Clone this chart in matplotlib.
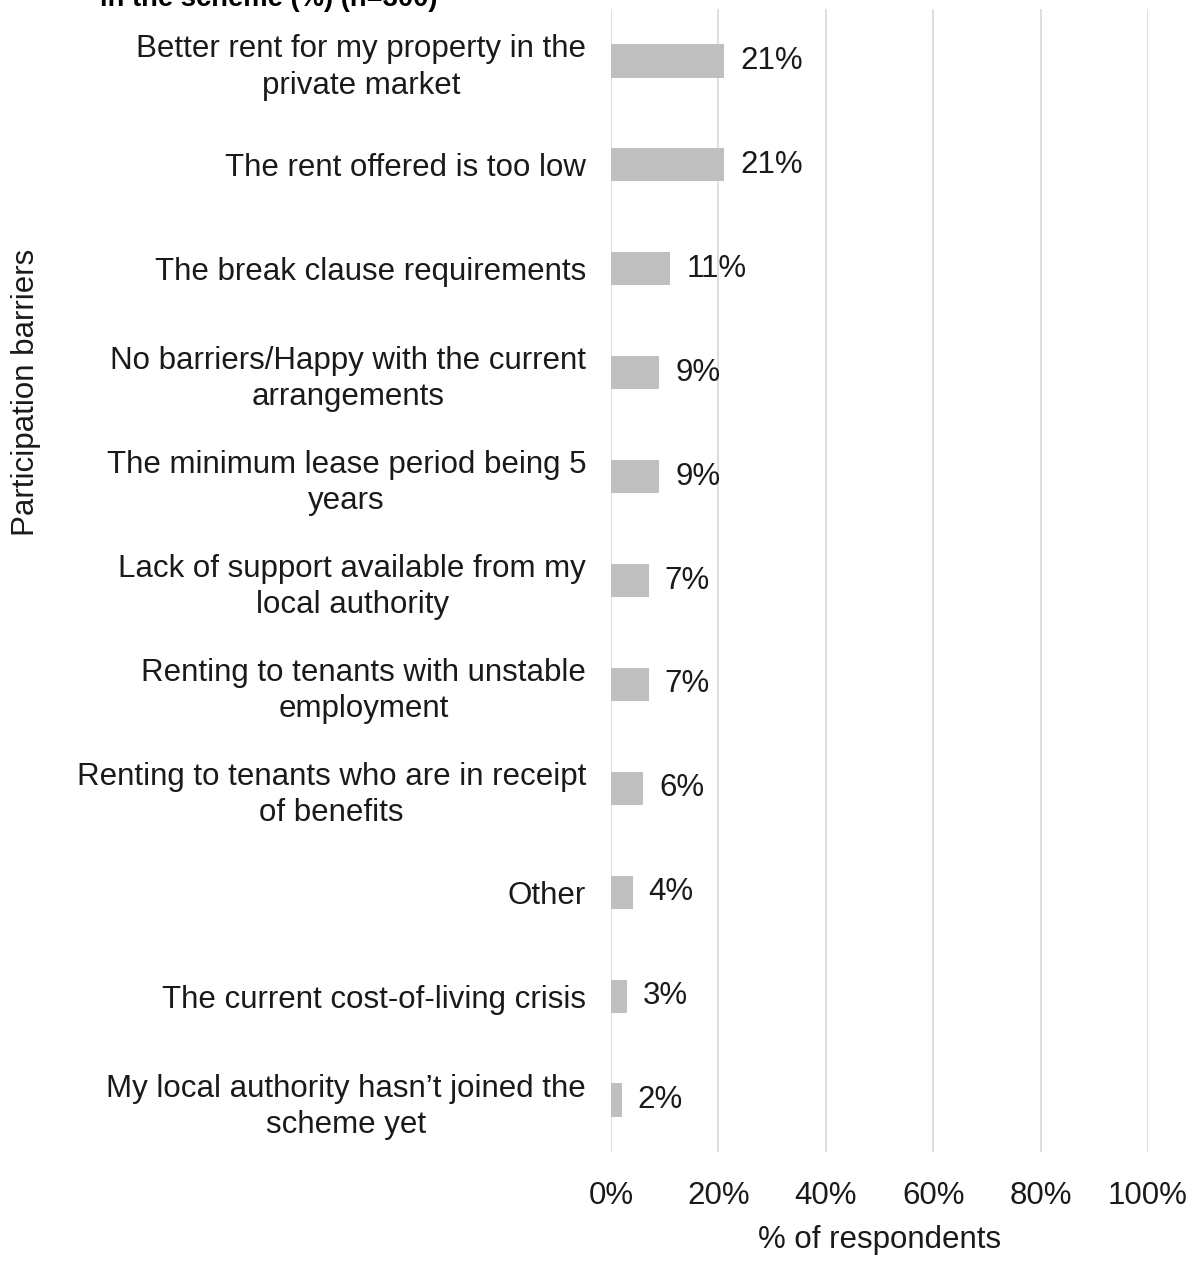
import matplotlib.pyplot as plt
from matplotlib.ticker import FuncFormatter

# participation barriers, top to bottom as shown
barriers = [
    "Better rent for my property in the\nprivate market",
    "The rent offered is too low",
    "The break clause requirements",
    "No barriers/Happy with the current\narrangements",
    "The minimum lease period being 5\nyears",
    "Lack of support available from my\nlocal authority",
    "Renting to tenants with unstable\nemployment",
    "Renting to tenants who are in receipt\nof benefits",
    "Other",
    "The current cost-of-living crisis",
    "My local authority hasn\u2019t joined the\nscheme yet",
]
pct = [21, 21, 11, 9, 9, 7, 7, 6, 4, 3, 2]

plt.rcParams['font.family'] = ['Liberation Sans', 'DejaVu Sans']
FS = 22.5
TXT = '#1a1a1a'

fig = plt.figure(figsize=(11.89, 12.65), dpi=100)
ax = fig.add_axes([0.5139, 0.0893, 0.4516, 0.9036])

ypos = list(range(len(barriers)))
ax.barh(ypos, pct, height=0.32, color='#bfbfbf', zorder=3)
for y, v in zip(ypos, pct):
    ax.text(v + 3, y, f"{v}%", va='center', ha='left', fontsize=FS, color=TXT, zorder=4)

ax.set_xlim(0, 100)
ax.set_ylim(len(barriers) - 0.5, -0.5)
ax.set_yticks(ypos)
ax.set_yticklabels(barriers, fontsize=FS, color=TXT, linespacing=1.27,
                   ha='right', multialignment='center')
ax.set_xticks(range(0, 101, 20))
ax.xaxis.set_major_formatter(FuncFormatter(lambda x, p: f"{x:.0f}%"))
ax.tick_params(axis='x', labelsize=FS, colors=TXT, length=0, pad=21)
ax.tick_params(axis='y', length=0, pad=18)
ax.grid(axis='x', color='#d9d9d9', linewidth=1.2, zorder=0)
for s in ax.spines.values():
    s.set_visible(False)

ax.set_xlabel('% of respondents', fontsize=FS, color=TXT, labelpad=10)
fig.text(0.022, 0.69, 'Participation barriers', rotation=90, fontsize=FS,
         color=TXT, ha='center', va='center')

# chart title runs off the top edge
fig.text(0.084, 0.9955, 'in the scheme (%) (n=300)', fontsize=19.7, fontweight='bold',
         color='#000000', ha='left', va='baseline')

fig.savefig('out.png', dpi=100)
